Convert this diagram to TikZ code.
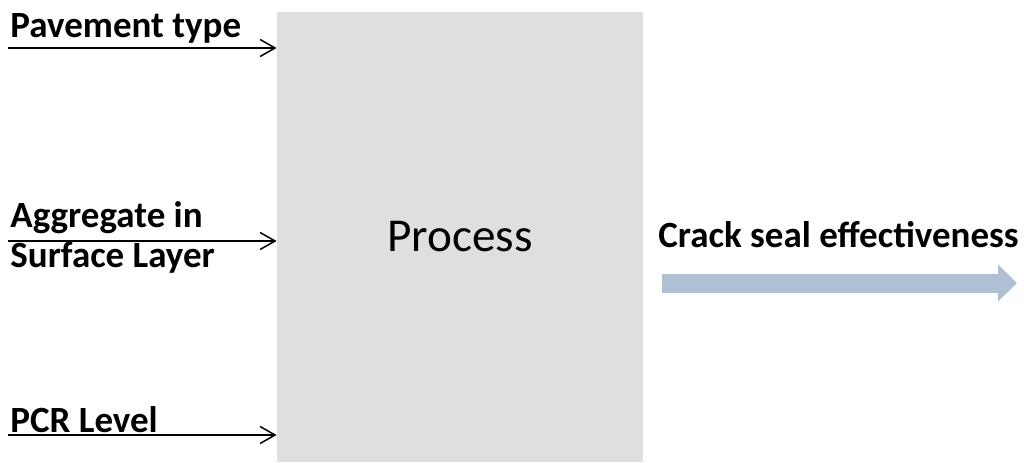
\documentclass[tikz,border=0pt]{standalone}
\usepackage{fontspec}
\setmainfont{Carlito}
\usetikzlibrary{arrows.meta,positioning}
\definecolor{boxgray}{HTML}{DFDFDF}
\definecolor{flowblue}{HTML}{AFC0D5}

\begin{document}
\begin{tikzpicture}[x=0.5pt,y=-0.5pt]
        \useasboundingbox (0,0) rectangle (1024,462);
        \tikzset{
          processbox/.style={fill=boxgray,minimum width=183pt,minimum height=225pt,inner sep=0pt,font=\fontsize{23.6}{28}\selectfont},
          inlabel/.style={anchor=base west,inner sep=0pt,font=\fontsize{18.5}{20}\selectfont\bfseries},
          inarrow/.style={-{Straight Barb[length=7.5pt,width=8.5pt]},line width=0.75pt},
          outarrow/.style={-{Triangle[length=9.5pt,width=18pt]},line width=9.5pt,flowblue}
        }
        % the process box
        \node[processbox] (process) at (460,237) {Process};
        % inputs
        \node[inlabel] (ptype) at (10,37) {Pavement type};
        \node[inlabel] (aggr) at (10,227) {Aggregate in};
        \node[inlabel] (surf) at (10,267) {Surface Layer};
        \node[inlabel] (pcr) at (10,432) {PCR Level};
        \coordinate (in1) at (8,48);
        \coordinate (in2) at (8,241);
        \coordinate (in3) at (8,435);
        \foreach \c in {in1,in2,in3}
          \draw[inarrow] (\c) -- (process.west |- \c);
        % output
        \node[inlabel] (effect) at (658,247) {Crack seal effectiveness};
        \coordinate (out0) at (662,283);
        \coordinate (out1) at (1017,283);
        \draw[outarrow] (out0) -- (out1);
      \end{tikzpicture}
\end{document}
